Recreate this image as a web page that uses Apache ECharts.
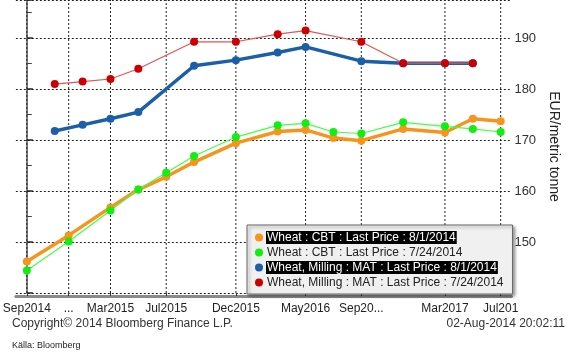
<!DOCTYPE html>
<html>
<head>
<meta charset="utf-8">
<script src="https://cdn.jsdelivr.net/npm/echarts@6/dist/echarts.min.js"></script>
<style>
html,body{margin:0;padding:0;background:#fff;}
#chart{width:569px;height:355px;}
</style>
</head>
<body>
<div id="chart"></div>
<script>
// Contract months (CBT) and values
const cbtMonths = ["2014-09","2014-12","2015-03","2015-05","2015-07","2015-09","2015-12","2016-03","2016-05","2016-07","2016-09","2016-12","2017-03","2017-05","2017-07"];
const cbt0801 = [146.2,151.3,156.8,160.3,162.8,165.7,169.4,171.7,172.0,170.4,169.9,172.2,171.5,174.2,173.7];
const cbt0724 = [144.4,150.1,156.2,160.3,163.6,166.9,170.6,172.9,173.3,171.6,171.3,173.5,172.7,172.2,171.6];
// Contract months (MATIF milling) and values
const matMonths = ["2014-11","2015-01","2015-03","2015-05","2015-09","2015-12","2016-03","2016-05","2016-09","2016-12","2017-03","2017-05"];
const mat0801 = [171.8,173.0,174.2,175.5,184.6,185.7,187.2,188.3,185.5,185.1,185.1,185.1];
const mat0724 = [181.0,181.5,182.0,184.0,189.3,189.3,190.8,191.5,189.3,185.1,185.1,185.1];
// Axis tick labels
const xTickMonths = ["2014-09","2014-12","2015-03","2015-07","2015-12","2016-05","2016-09","2017-03","2017-07"];
const xTickLabels = ["Sep2014","...","Mar2015","Jul2015","Dec2015","May2016","Sep20...","Mar2017","Jul201"];
const yTicks = [150,160,170,180,190];
const seriesNames = ["Wheat : CBT : Last Price : 8/1/2014","Wheat : CBT : Last Price : 7/24/2014","Wheat, Milling : MAT : Last Price : 8/1/2014","Wheat, Milling : MAT : Last Price : 7/24/2014"];

function mIdx(s){ const p = s.split('-'); return (+p[0]-2014)*12 + (+p[1]-9); }
function pairs(months, vals){ return months.map((m,i)=>[mIdx(m), vals[i]]); }
const tickVals = xTickMonths.map(mIdx);
const labelMap = {}; tickVals.forEach((v,i)=>labelMap[v]=xTickLabels[i]);

const FONT = 'Liberation Sans';
const X_MIN = -0.79, X_MAX = 34.77, Y_MIN = 140, Y_MAX = 197.5;
// vertical grid lines at the x tick values (one broken line series)
const vGrid = [];
tickVals.forEach(v => { vGrid.push([v, Y_MIN], [v, Y_MAX], [v, '-']); });

const chart = echarts.init(document.getElementById('chart'));
const highlighted = {};
highlighted[seriesNames[0]] = true; highlighted[seriesNames[2]] = true;

chart.setOption({
  animation:false,
  backgroundColor:'#ffffff',
  textStyle:{fontFamily:FONT},
  title:[
    {text:'Copyright\u00A9 2014 Bloomberg Finance L.P.', left:12, top:318, padding:0, textStyle:{fontSize:12, fontWeight:'normal', color:'#333', fontFamily:FONT}},
    {text:'02-Aug-2014 20:02:11', right:4, top:318, padding:0, textStyle:{fontSize:12, fontWeight:'normal', color:'#333', fontFamily:FONT}},
    {text:'Källa: Bloomberg', left:12, top:341, padding:0, textStyle:{fontSize:9, fontWeight:'normal', color:'#222', fontFamily:FONT}}
  ],
  grid:{left:12, right:50, top:0, bottom:62, containLabel:false},
  legend:{
    orient:'vertical', left:247, top:225, width:262,
    padding:[6,8,5,8], itemGap:2, itemWidth:8, itemHeight:8,
    icon:'circle',
    backgroundColor:'#f0f0f0', borderColor:'#666', borderWidth:1,
    shadowColor:'rgba(0,0,0,0.35)', shadowBlur:3, shadowOffsetX:2, shadowOffsetY:2,
    data:seriesNames,
    formatter: n => highlighted[n] ? '{h|'+n+'}' : '{n|'+n+'}',
    textStyle:{fontSize:12, fontFamily:FONT, padding:[0,0,0,-2],
      rich:{
        h:{fontSize:12, fontFamily:FONT, color:'#fff', backgroundColor:'#000', lineHeight:12, padding:[1,1,0,1]},
        n:{fontSize:12, fontFamily:FONT, color:'#222', lineHeight:12, padding:[1,1,0,1]}
      }}
  },
  xAxis:[
    {
      type:'value', min:X_MIN, max:X_MAX,
      offset:3,
      axisLine:{show:true, lineStyle:{color:'#8a8a8a', width:3}},
      axisTick:{show:false},
      axisLabel:{show:false},
      splitLine:{show:false}
    },
    {
      type:'value', min:X_MIN, max:X_MAX, position:'bottom',
      offset:3,
      axisLine:{show:false},
      axisTick:{show:true, inside:true, length:3, lineStyle:{color:'#333'}, customValues:tickVals},
      axisLabel:{show:true, customValues:tickVals, formatter:v=>labelMap[Math.round(v)]||'', fontSize:12, color:'#222', margin:7, fontFamily:FONT},
      splitLine:{show:false}
    }
  ],
  yAxis:{
    type:'value', position:'right', min:Y_MIN, max:Y_MAX, interval:10,
    axisLine:{show:true, lineStyle:{color:'#555', width:1.5}},
    axisTick:{show:true, length:6, lineStyle:{color:'#222', width:1.5}},
    minorTick:{show:true, splitNumber:2, length:5, lineStyle:{color:'#444'}},
    axisLabel:{formatter:v=> yTicks.indexOf(v) >= 0 ? String(v) : '', fontSize:13, color:'#333', margin:3, fontFamily:FONT},
    splitLine:{show:true, lineStyle:{color:'#222', type:[2,2], width:1}},
    name:'EUR/metric tonne', nameLocation:'middle', nameRotate:-90, nameGap:30,
    nameTextStyle:{fontSize:14, color:'#222', fontFamily:FONT}
  },
  series:[
    {name:'vgrid', type:'line', xAxisIndex:0, data:vGrid, symbol:'none', silent:true, z:1,
      connectNulls:false, lineStyle:{color:'#222', type:[2,2], width:1}},
    {name:seriesNames[0], type:'line', xAxisIndex:0, data:pairs(cbtMonths,cbt0801), symbol:'circle', symbolSize:8,
      itemStyle:{color:'#f7941d'}, lineStyle:{color:'#f7941d', width:3.5}},
    {name:seriesNames[1], type:'line', xAxisIndex:0, data:pairs(cbtMonths,cbt0724), symbol:'circle', symbolSize:8,
      itemStyle:{color:'#11ee11'}, lineStyle:{color:'#44ff44', width:1.2}},
    {name:seriesNames[2], type:'line', xAxisIndex:0, data:pairs(matMonths,mat0801), symbol:'circle', symbolSize:8,
      itemStyle:{color:'#1a5fa8'}, lineStyle:{color:'#1a5fa8', width:3.5}},
    {name:seriesNames[3], type:'line', xAxisIndex:0, data:pairs(matMonths,mat0724), symbol:'circle', symbolSize:8,
      itemStyle:{color:'#cc0000'}, lineStyle:{color:'#e05555', width:1.2}}
  ]
});
</script>
</body>
</html>
